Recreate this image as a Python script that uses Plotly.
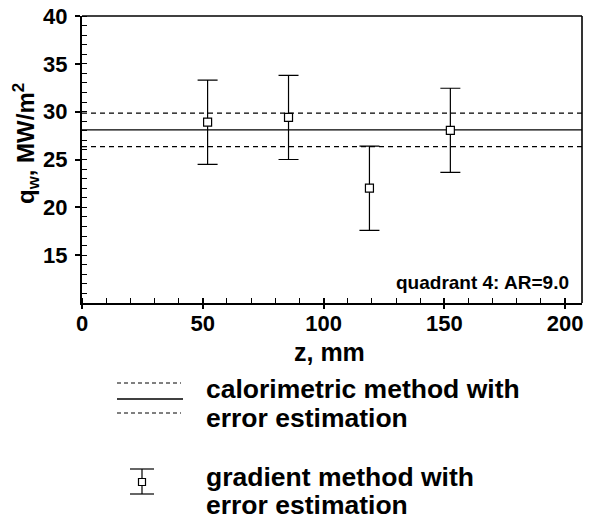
import plotly.graph_objects as go

# ---- data ----
z_grad = [52.0, 85.5, 119.0, 152.5]          # mm
q_grad = [28.9, 29.4, 22.0, 28.05]           # MW/m^2
q_grad_err = [4.4, 4.4, 4.4, 4.4]

z_cal = [0.0, 207.0]
q_cal = 28.1
q_cal_err = 1.75

x_ticks = [0, 50, 100, 150, 200]
y_ticks = [15, 20, 25, 30, 35, 40]
x_range = [0, 207]
y_range = [10, 40]

FONT = "Arial, Liberation Sans, Helvetica, sans-serif"
BLACK = "#000000"

fig = go.Figure()

# calorimetric mean and error band
fig.add_trace(go.Scatter(x=z_cal, y=[q_cal, q_cal], mode="lines",
                         line=dict(color=BLACK, width=1.3), showlegend=False, hoverinfo="skip"))
for s in (+1, -1):
    fig.add_trace(go.Scatter(x=z_cal, y=[q_cal + s * q_cal_err] * 2, mode="lines",
                             line=dict(color=BLACK, width=1.3, dash="5px,4px"),
                             showlegend=False, hoverinfo="skip"))

# gradient method points with error bars
fig.add_trace(go.Scatter(
    x=z_grad, y=q_grad, mode="markers",
    marker=dict(symbol="square", size=8, color="white", line=dict(color=BLACK, width=1.2)),
    error_y=dict(type="data", array=q_grad_err, visible=True, color=BLACK, thickness=1.2, width=10),
    showlegend=False))

# page body has an 8px margin; screen coords = figure coords + 8
OFF = 8
W, H = 593, 517
PL, PR, PT, PB = 82, 582, 16, 303        # plot area on screen
ml, mt = PL - OFF, PT - OFF
mr = W - (PR - OFF)
mb = H - (PB - OFF)
pw, ph = PR - PL, PB - PT


def px(xs):
    return (xs - PL) / pw


def py(ys):
    return (PB - ys) / ph


shapes = []
# thin top and right frame lines
shapes.append(dict(type="line", xref="paper", yref="paper", x0=0, x1=1, y0=1, y1=1,
                   line=dict(color=BLACK, width=1.6), layer="above"))
shapes.append(dict(type="line", xref="paper", yref="paper", x0=1, x1=1, y0=0, y1=1,
                   line=dict(color=BLACK, width=1.6), layer="above"))
# legend symbols
shapes.append(dict(type="line", xref="paper", yref="paper", x0=px(117), x1=px(181), y0=py(383), y1=py(383),
                   line=dict(color=BLACK, width=1, dash="4px,3px")))
shapes.append(dict(type="line", xref="paper", yref="paper", x0=px(117), x1=px(183), y0=py(399), y1=py(399),
                   line=dict(color=BLACK, width=1.3)))
shapes.append(dict(type="line", xref="paper", yref="paper", x0=px(117), x1=px(181), y0=py(413), y1=py(413),
                   line=dict(color=BLACK, width=1, dash="4px,3px")))
# error bar legend symbol
shapes.append(dict(type="line", xref="paper", yref="paper", x0=px(130), x1=px(154), y0=py(469), y1=py(469),
                   line=dict(color=BLACK, width=1.2)))
shapes.append(dict(type="line", xref="paper", yref="paper", x0=px(130), x1=px(154), y0=py(494), y1=py(494),
                   line=dict(color=BLACK, width=1.2)))
shapes.append(dict(type="line", xref="paper", yref="paper", x0=px(142), x1=px(142), y0=py(469), y1=py(494),
                   line=dict(color=BLACK, width=1.2)))
shapes.append(dict(type="rect", xref="paper", yref="paper", x0=px(138.5), x1=px(145.5), y0=py(478.5), y1=py(485.5),
                   line=dict(color=BLACK, width=1.2), fillcolor="white"))

annotations = []
annotations.append(dict(text="quadrant 4: AR=9.0", xref="paper", yref="paper", x=px(571), y=py(282),
                        xanchor="right", yanchor="middle", showarrow=False,
                        font=dict(family=FONT, size=19, color=BLACK, weight="bold")))
annotations.append(dict(text="z, mm", xref="paper", yref="paper", x=px(329), y=py(352),
                        xanchor="center", yanchor="middle", showarrow=False,
                        font=dict(family=FONT, size=25, color=BLACK, weight="bold")))
annotations.append(dict(text="q<sub>w</sub>, MW/m<sup>2</sup>", xref="paper", yref="paper", x=px(26), y=py(144),
                        xanchor="center", yanchor="middle", textangle=-90, showarrow=False,
                        font=dict(family=FONT, size=24, color=BLACK, weight="bold")))
for txt, yy in [("calorimetric method with", 389), ("error estimation", 418),
                ("gradient method with", 477), ("error estimation", 505)]:
    annotations.append(dict(text=txt, xref="paper", yref="paper", x=px(204), y=py(yy),
                            xanchor="left", yanchor="middle", showarrow=False,
                            font=dict(family=FONT, size=26.5, color=BLACK, weight="bold")))

fig.update_layout(
    width=W, height=H, margin=dict(l=ml, r=mr, t=mt, b=mb, pad=0, autoexpand=False),
    paper_bgcolor="white", plot_bgcolor="white",
    showlegend=False, shapes=shapes, annotations=annotations,
    xaxis=dict(range=x_range, tickvals=x_ticks, ticktext=[str(v) for v in x_ticks],
               showgrid=False, zeroline=False, showline=True, linecolor=BLACK, linewidth=2,
               automargin=False, ticklabeloverflow="allow",
               ticks="outside", ticklen=4, tickwidth=1.5, tickcolor=BLACK,
               ticklabelstandoff=-4,
               tickfont=dict(family=FONT, size=22, color=BLACK, weight="bold"),
               minor=dict(dtick=10, ticks="inside", ticklen=5, tickwidth=1, tickcolor=BLACK,
                          showgrid=False)),
    # inside part of the major x ticks
    xaxis2=dict(range=x_range, overlaying="x", matches="x", side="bottom", anchor="y",
                tickvals=x_ticks, showticklabels=False, showgrid=False, zeroline=False,
                automargin=False,
                showline=False, ticks="inside", ticklen=5, tickwidth=1.5, tickcolor=BLACK),
    yaxis=dict(range=y_range, tickvals=y_ticks, ticktext=[str(v) for v in y_ticks],
               showgrid=False, zeroline=False, showline=True, linecolor=BLACK, linewidth=2,
               automargin=False, ticklabeloverflow="allow",
               ticks="outside", ticklen=5, tickwidth=1.5, tickcolor=BLACK,
               ticklabelstandoff=3,
               tickfont=dict(family=FONT, size=22, color=BLACK, weight="bold"),
               minor=dict(dtick=1, ticks="inside", ticklen=5, tickwidth=1, tickcolor=BLACK,
                          showgrid=False)),
)
# invisible trace to activate the helper axis
fig.add_trace(go.Scatter(x=[0], y=[10], xaxis="x2", yaxis="y", mode="markers", marker=dict(opacity=0),
                         showlegend=False, hoverinfo="skip"))

fig.write_html("out.html")
